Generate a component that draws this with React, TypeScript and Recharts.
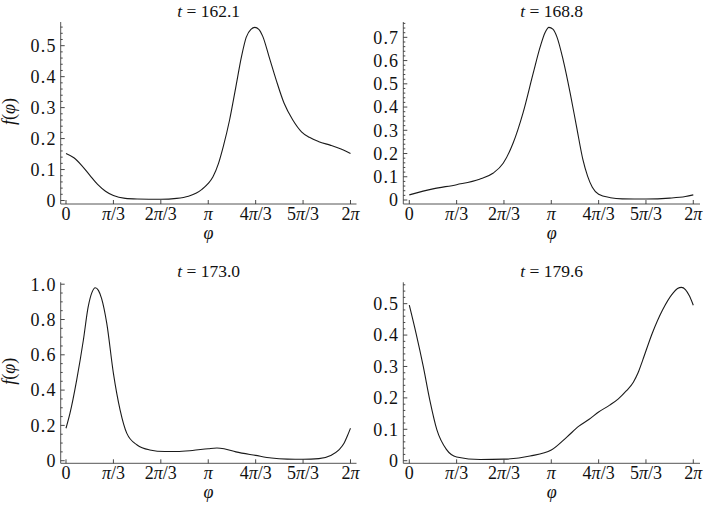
import React from 'react';
import { LineChart, Line, XAxis, YAxis } from 'recharts';

// ---------- data ----------
const PHI_TICKS = [0, 60, 120, 180, 240, 300, 360];
const PHI_TICK_LABELS = ['0', 'π/3', '2π/3', 'π', '4π/3', '5π/3', '2π'];
const TITLES = ['162.1', '168.8', '173.0', '179.6'];

const phi1 = [0, 10, 20, 30, 40, 50, 60, 75, 90, 120, 140, 155, 165, 172, 180, 186, 193, 199, 207, 215, 222, 228, 234, 239, 244, 249, 257, 266, 276, 287, 298, 308, 320, 335, 348, 360];
const f1 = [0.152, 0.138, 0.113, 0.082, 0.052, 0.03, 0.016, 0.007, 0.005, 0.004, 0.007, 0.014, 0.024, 0.036, 0.055, 0.077, 0.12, 0.174, 0.26, 0.368, 0.464, 0.527, 0.553, 0.559, 0.553, 0.53, 0.464, 0.389, 0.314, 0.26, 0.222, 0.204, 0.19, 0.178, 0.166, 0.152];

const phi2 = [0, 30, 60, 89, 106, 119, 131.5, 144, 157, 166, 172, 177, 182, 187, 195, 204, 212, 220, 226, 232, 240, 255, 270, 300, 330, 350, 360];
const f2 = [0.022, 0.048, 0.066, 0.089, 0.115, 0.158, 0.244, 0.373, 0.545, 0.66, 0.72, 0.743, 0.735, 0.703, 0.603, 0.459, 0.316, 0.175, 0.103, 0.055, 0.025, 0.01, 0.005, 0.004, 0.008, 0.015, 0.022];

const phi3 = [0, 5, 13.5, 22, 28, 33, 37, 41, 45, 51.6, 60, 68.5, 77, 90, 106, 125, 140, 160, 180, 191, 200, 215, 240, 260, 280, 300, 320, 335, 345, 352, 356, 360];
const f3 = [0.184, 0.268, 0.457, 0.684, 0.87, 0.955, 0.98, 0.965, 0.92, 0.778, 0.495, 0.287, 0.155, 0.089, 0.061, 0.052, 0.052, 0.058, 0.068, 0.072, 0.068, 0.05, 0.03, 0.015, 0.009, 0.008, 0.012, 0.03, 0.06, 0.1, 0.14, 0.184];

const phi4 = [0, 8.5, 17.7, 26, 35, 47, 60, 90, 120, 153, 180, 200, 215, 228, 240, 254, 265, 275, 284, 290, 296, 308, 321, 334, 340, 345, 350, 355, 360];
const f4 = [0.495, 0.406, 0.3, 0.193, 0.098, 0.036, 0.012, 0.004, 0.005, 0.015, 0.034, 0.076, 0.11, 0.132, 0.155, 0.177, 0.197, 0.222, 0.25, 0.28, 0.321, 0.406, 0.48, 0.533, 0.548, 0.552, 0.545, 0.525, 0.495];

const yMajor1 = [0, 0.1, 0.2, 0.3, 0.4, 0.5];
const yMajor2 = [0, 0.1, 0.2, 0.3, 0.4, 0.5, 0.6, 0.7];
const yMajor3 = [0, 0.2, 0.4, 0.6, 0.8, 1.0];
const yMajor4 = [0, 0.1, 0.2, 0.3, 0.4, 0.5];

// ---------- layout / style ----------
const FONT = "'Liberation Serif', 'DejaVu Serif', 'Times New Roman', Times, serif";
const FRAME = '#555';
const TICK = '#333';
const CURVE = '#1a1a1a';

type Panel = {
  phi: number[];
  f: number[];
  title: string;
  yMajor: number[];
  yMinorStep: number;
  chart: { left: number; top: number; w: number; h: number };
  frame: { L: number; R: number; T: number; B: number };
  xDomain: [number, number];
  yDomain: [number, number];
  showYLabel: boolean;
};

const PANELS: Panel[] = [
  {
    phi: phi1, f: f1, title: TITLES[0], yMajor: yMajor1, yMinorStep: 0.02,
    chart: { left: 0, top: 0, w: 368, h: 250 },
    frame: { L: 60.7, R: 356.5, T: 22, B: 204 },
    xDomain: [-6.7, 367.6], yDomain: [-0.0113, 0.5765], showYLabel: true,
  },
  {
    phi: phi2, f: f2, title: TITLES[1], yMajor: yMajor2, yMinorStep: 0.02,
    chart: { left: 368, top: 0, w: 336, h: 250 },
    frame: { L: 403.3, R: 700, T: 22, B: 204 },
    xDomain: [-7.6, 368.5], yDomain: [-0.0172, 0.766], showYLabel: false,
  },
  {
    phi: phi3, f: f3, title: TITLES[2], yMajor: yMajor3, yMinorStep: 0.05,
    chart: { left: 0, top: 255, w: 368, h: 254 },
    frame: { L: 60.7, R: 356.5, T: 282.3, B: 463.3 },
    xDomain: [-6.7, 367.6], yDomain: [-0.0147, 1.0108], showYLabel: true,
  },
  {
    phi: phi4, f: f4, title: TITLES[3], yMajor: yMajor4, yMinorStep: 0.02,
    chart: { left: 368, top: 255, w: 336, h: 254 },
    frame: { L: 403.3, R: 700, T: 282.3, B: 463.3 },
    xDomain: [-7.6, 368.5], yDomain: [-0.0083, 0.568], showYLabel: false,
  },
];

const fmtY = (v: number) => (Math.abs(v) < 1e-9 ? '0' : v.toFixed(1));

function minorTicks(step: number, max: number): number[] {
  const out: number[] = [];
  const n = Math.floor(max / step + 1e-9);
  for (let k = 0; k <= n; k++) out.push(Math.round(k * step * 1000) / 1000);
  return out;
}

const isMajorOf = (majors: number[], v: number) => majors.some((m) => Math.abs(m - v) < 1e-6);

function renderPiLabel(label: string) {
  const parts = label.split('π');
  const nodes: React.ReactNode[] = [];
  parts.forEach((p, i) => {
    if (p) nodes.push(<tspan key={'p' + i}>{p}</tspan>);
    if (i < parts.length - 1) nodes.push(<tspan key={'pi' + i} fontStyle="italic">π</tspan>);
  });
  return nodes;
}

const textStyle: React.CSSProperties = { fontFamily: FONT };
const yLabelStyle: React.CSSProperties = { fontFamily: FONT, letterSpacing: 1.2 };

const makeLeftTick = (majors: number[]) => (props: any) => {
  const { x, y, payload } = props;
  const v = payload.value as number;
  const major = isMajorOf(majors, v);
  return (
    <g>
      <line x1={x} y1={y} x2={x + (major ? 4 : 2)} y2={y} stroke={TICK} strokeWidth={0.9} />
      {major && (
        <text x={x - 4} y={y} dy="0.35em" textAnchor="end" fontSize={18} style={yLabelStyle} fill="#111">
          {fmtY(v)}
        </text>
      )}
    </g>
  );
};

const makeRightTick = (majors: number[]) => (props: any) => {
  const { x, y, payload } = props;
  const v = payload.value as number;
  const major = isMajorOf(majors, v);
  return <line x1={x} y1={y} x2={x - (major ? 4 : 2)} y2={y} stroke={TICK} strokeWidth={0.9} />;
};

const BottomTick = (props: any) => {
  const { x, y, payload } = props;
  const idx = PHI_TICKS.indexOf(payload.value);
  return (
    <g>
      <line x1={x} y1={y} x2={x} y2={y - 4} stroke={TICK} strokeWidth={0.9} />
      <text x={x} y={y + 16} textAnchor="middle" fontSize={18} style={textStyle} fill="#111">
        {renderPiLabel(PHI_TICK_LABELS[idx] ?? '')}
      </text>
    </g>
  );
};

function PanelChart({ p }: { p: Panel }) {
  const data = p.phi.map((phi, i) => ({ phi, f: p.f[i] }));
  const { chart, frame } = p;
  const leftW = frame.L - chart.left;
  const rightM = chart.left + chart.w - frame.R;
  const topM = frame.T - chart.top;
  const bottomH = chart.top + chart.h - frame.B;
  const yTicks = minorTicks(p.yMinorStep, p.yDomain[1]);
  return (
    <div style={{ position: 'absolute', left: chart.left, top: chart.top }}>
      <LineChart
        width={chart.w}
        height={chart.h}
        data={data}
        margin={{ top: topM, right: rightM, bottom: 0, left: 0 }}
      >
        <XAxis
          xAxisId="bottom"
          dataKey="phi"
          type="number"
          domain={p.xDomain}
          allowDataOverflow
          ticks={PHI_TICKS}
          interval={0}
          height={bottomH}
          tickSize={0}
          tickMargin={0}
          tickLine={false}
          axisLine={{ stroke: FRAME, strokeWidth: 1 }}
          tick={BottomTick}
        />
        <XAxis
          xAxisId="top"
          orientation="top"
          dataKey="phi"
          type="number"
          domain={p.xDomain}
          allowDataOverflow
          height={0}
          tick={false}
          tickLine={false}
          axisLine={{ stroke: FRAME, strokeWidth: 1 }}
        />
        <YAxis
          yAxisId="left"
          type="number"
          domain={p.yDomain}
          allowDataOverflow
          ticks={yTicks}
          interval={0}
          width={leftW}
          tickSize={0}
          tickMargin={0}
          tickLine={false}
          axisLine={{ stroke: FRAME, strokeWidth: 1 }}
          tick={makeLeftTick(p.yMajor)}
        />
        <YAxis
          yAxisId="right"
          orientation="right"
          type="number"
          domain={p.yDomain}
          allowDataOverflow
          ticks={yTicks}
          interval={0}
          width={0}
          tickSize={0}
          tickMargin={0}
          tickLine={false}
          axisLine={{ stroke: FRAME, strokeWidth: 1 }}
          tick={makeRightTick(p.yMajor)}
        />
        <Line
          xAxisId="bottom"
          yAxisId="left"
          type="monotone"
          dataKey="f"
          stroke={CURVE}
          strokeWidth={1.1}
          dot={false}
          activeDot={false}
          isAnimationActive={false}
        />
        <Line
          xAxisId="top"
          yAxisId="right"
          type="monotone"
          dataKey="f"
          stroke="none"
          strokeWidth={0}
          dot={false}
          activeDot={false}
          isAnimationActive={false}
        />
      </LineChart>
    </div>
  );
}

function Overlay() {
  return (
    <svg
      width={704}
      height={509}
      style={{ position: 'absolute', left: 0, top: 0, pointerEvents: 'none', fontFamily: FONT }}
    >
      {PANELS.map((p, i) => {
        const cx = (p.frame.L + p.frame.R) / 2;
        const cy = (p.frame.T + p.frame.B) / 2;
        return (
          <g key={i} fill="#111">
            <text x={cx} y={p.frame.T - 5.3} textAnchor="middle" fontSize={17.5} style={textStyle}>
              <tspan fontStyle="italic">t</tspan> = {p.title}
            </text>
            <text x={cx} y={p.frame.B + 35} textAnchor="middle" fontSize={18} style={textStyle}>
              <tspan fontStyle="italic">φ</tspan>
            </text>
            {p.showYLabel && (
              <text
                x={0}
                y={0}
                transform={`translate(15, ${cy - 1.5}) rotate(-90)`}
                textAnchor="middle"
                fontSize={18}
                style={textStyle}
              >
                <tspan fontStyle="italic">f</tspan>(<tspan fontStyle="italic">φ</tspan>)
              </text>
            )}
          </g>
        );
      })}
    </svg>
  );
}

export default function App() {
  return (
    <div
      style={{
        position: 'absolute',
        left: 0,
        top: 0,
        width: 704,
        height: 509,
        background: '#fff',
        overflow: 'hidden',
        fontFamily: FONT,
      }}
    >
      {PANELS.map((p, i) => (
        <PanelChart key={i} p={p} />
      ))}
      <Overlay />
    </div>
  );
}
